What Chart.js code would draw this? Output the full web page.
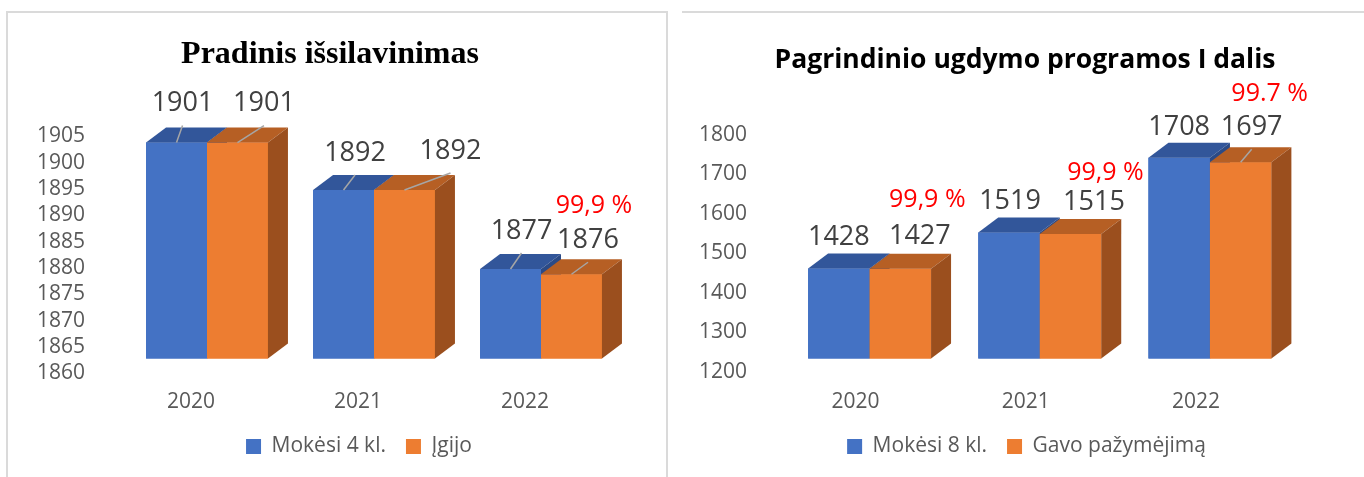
<!DOCTYPE html>
<html lang="lt">
<head>
<meta charset="utf-8">
<title>Mokinių skaičius</title>
<script src="https://cdn.jsdelivr.net/npm/chart.js@4.4.1/dist/chart.umd.min.js"></script>
<style>
    html, body { margin: 0; padding: 0; background: #fff; overflow: hidden; }
    body { position: relative; width: 1364px; height: 477px; }
    .panel { position: absolute; top: 11px; height: 480px; box-sizing: border-box; }
    #panel-primary { left: 6px; width: 662px; border: 2px solid #dadada; border-bottom: none; }
    #panel-basic { left: 682px; width: 682px; border-top: 2px solid #dadada; }
    .chart-box { position: absolute; top: 0; width: 682px; height: 467px; }
    #box-primary { left: 0; }
    #box-basic { left: 682px; }
</style>
</head>
<body>
<div class="panel" id="panel-primary"></div>
<div class="panel" id="panel-basic"></div>
<div class="chart-box" id="box-primary"><canvas id="primary"></canvas></div>
<div class="chart-box" id="box-basic"><canvas id="basic"></canvas></div>

<script>
// --- data ---------------------------------------------------------------
const years = ['2020', '2021', '2022'];

const primaryStudying = [1901, 1892, 1877];
const primaryGraduated = [1901, 1892, 1876];
const primaryShare = [null, null, '99,9 %'];
const primaryTicks = [1860, 1865, 1870, 1875, 1880, 1885, 1890, 1895, 1900, 1905];

const basicStudying = [1428, 1519, 1708];
const basicCertified = [1427, 1515, 1697];
const basicShare = ['99,9 %', '99,9 %', '99.7 %'];
const basicTicks = [1200, 1300, 1400, 1500, 1600, 1700, 1800];

// --- look ---------------------------------------------------------------
const BLUE = '#4472c4';
const ORANGE = '#ed7d31';
const faces = [
    { top: '#32569a', side: '#2b4a86' },
    { top: '#b65f24', side: '#9b4f1e' }
];
const GREY = '#595959';
const axisFont = { family: '"Open Sans", sans-serif', size: 21 };

// label offsets from the front top edge of each bar (manually dragged labels in the original)
const primaryLabelShift = [
    [[6, -39], [11.5, -37], [11, -38]],
    [[26.5, -39], [46, -39], [16.5, -34]]
];
const primaryLeaders = [[true, true, true], [true, true, true]];
const primaryShareShift = [null, null, [22.5, -68]];

const basicLabelShift = [
    [[0, -31.5], [1, -31], [0, -30.7]],
    [[19.5, -33], [23.5, -32], [11, -35]]
];
const basicLeaders = [[false, false, false], [false, false, true]];
const basicShareShift = [[27, -69], [35, -61.5], [29, -68]];

// draws top and right faces, bar by bar so neighbours overlap properly
function bar3d(depthX, depthY) {
    return {
        id: 'bar3d',
        afterDatasetsDraw(chart) {
            const ctx = chart.ctx;
            const area = chart.chartArea;
            const metas = chart.data.datasets.map((ds, i) => chart.getDatasetMeta(i));

            chart.data.labels.forEach((label, j) => {
                metas.forEach((meta, i) => {
                    const bar = meta.data[j];
                    const left = bar.x - bar.width / 2;
                    const right = bar.x + bar.width / 2;
                    const base = Math.min(bar.base, area.bottom);

                    ctx.save();
                    ctx.beginPath();
                    ctx.rect(area.left, area.top, area.right - area.left, area.bottom - area.top);
                    ctx.clip();
                    bar.draw(ctx);
                    ctx.restore();

                    ctx.save();
                    ctx.fillStyle = faces[i].top;
                    ctx.beginPath();
                    ctx.moveTo(left, bar.y);
                    ctx.lineTo(left + depthX, bar.y + depthY);
                    ctx.lineTo(right + depthX, bar.y + depthY);
                    ctx.lineTo(right, bar.y);
                    ctx.closePath();
                    ctx.fill();

                    ctx.fillStyle = faces[i].side;
                    ctx.beginPath();
                    ctx.moveTo(right, bar.y);
                    ctx.lineTo(right + depthX, bar.y + depthY);
                    ctx.lineTo(right + depthX, base + depthY);
                    ctx.lineTo(right, base);
                    ctx.closePath();
                    ctx.fill();
                    ctx.restore();
                });
            });
        }
    };
}

function barLabels(shift, leaders, share, shareShift) {
    return {
        id: 'barLabels',
        afterDatasetsDraw(chart) {
            const ctx = chart.ctx;
            ctx.save();
            ctx.textAlign = 'center';
            ctx.textBaseline = 'middle';

            chart.data.datasets.forEach((ds, i) => {
                chart.getDatasetMeta(i).data.forEach((bar, j) => {
                    const x = bar.x + shift[i][j][0];
                    const y = bar.y + shift[i][j][1];

                    if (leaders[i][j]) {
                        ctx.strokeStyle = '#a6a6a6';
                        ctx.lineWidth = 1.5;
                        ctx.beginPath();
                        ctx.moveTo(x, y + 22);
                        ctx.lineTo(bar.x, bar.y);
                        ctx.stroke();
                    }

                    ctx.font = '27px "Open Sans"';
                    ctx.fillStyle = '#404040';
                    ctx.fillText(String(ds.data[j]), x, y);
                });
            });

            const last = chart.getDatasetMeta(chart.data.datasets.length - 1);
            share.forEach((text, j) => {
                if (!text) {
                    return;
                }
                const bar = last.data[j];
                ctx.font = '25px "Open Sans"';
                ctx.fillStyle = '#ff0000';
                ctx.fillText(text, bar.x + shareShift[j][0], bar.y + shareShift[j][1]);
            });

            ctx.restore();
        }
    };
}

// moves title / legend sideways, the original centres them off the plot
const centerShift = (titleDx, legendDx) => ({
    id: 'centerShift',
    afterLayout(chart) {
        if (chart.titleBlock) {
            chart.titleBlock.left += titleDx;
            chart.titleBlock.right += titleDx;
        }
        if (chart.legend) {
            chart.legend.left += legendDx;
            chart.legend.right += legendDx;
        }
    }
});

function createChart(element, cfg) {
    return new Chart(element, {
        type: 'bar',
        data: {
            labels: years,
            datasets: [
                { label: cfg.names[0], data: cfg.studying, backgroundColor: BLUE, borderWidth: 0 },
                { label: cfg.names[1], data: cfg.finished, backgroundColor: ORANGE, borderWidth: 0 }
            ]
        },
        options: {
            responsive: true,
            maintainAspectRatio: false,
            animation: false,
            events: [],
            layout: { padding: 0 },
            datasets: {
                bar: { categoryPercentage: cfg.categoryPercentage, barPercentage: 1 }
            },
            plugins: {
                title: {
                    display: true,
                    text: cfg.title,
                    color: '#000',
                    font: cfg.titleFont,
                    padding: cfg.titlePadding
                },
                legend: {
                    position: 'bottom',
                    labels: {
                        boxWidth: 15,
                        boxHeight: 15,
                        padding: 20,
                        color: GREY,
                        font: axisFont
                    }
                },
                tooltip: { enabled: false }
            },
            scales: {
                x: {
                    afterFit: (scale) => {
                        scale.height = 57.5;
                    },
                    grid: { display: false, drawTicks: false },
                    border: { display: false },
                    ticks: {
                        color: GREY,
                        font: { ...axisFont, lineHeight: 1.35 },
                        padding: 29.1,
                        maxRotation: 0,
                        minRotation: 0,
                        labelOffset: cfg.xLabelOffset
                    }
                },
                y: {
                    position: 'left',
                    min: cfg.ticks[0],
                    max: cfg.ticks[cfg.ticks.length - 1],
                    afterBuildTicks: (scale) => {
                        scale.ticks = cfg.ticks.map((value) => ({ value: value }));
                    },
                    afterFit: (scale) => {
                        scale.width = cfg.axisWidth;
                    },
                    grid: { display: false, drawTicks: false },
                    border: { display: false },
                    ticks: {
                        autoSkip: false,
                        color: GREY,
                        font: { ...axisFont, lineHeight: 1 },
                        padding: cfg.yPadding,
                        labelOffset: cfg.yLabelOffset,
                        callback: (value) => String(value)
                    }
                },
                gutter: {
                    type: 'linear',
                    position: 'right',
                    afterFit: (scale) => {
                        scale.width = cfg.gutterWidth;
                    },
                    grid: { display: false, drawTicks: false },
                    border: { display: false },
                    ticks: { display: false }
                }
            }
        },
        plugins: [
            bar3d(20, -15),
            barLabels(cfg.labelShift, cfg.leaders, cfg.share, cfg.shareShift),
            centerShift(cfg.titleDx, cfg.legendDx)
        ]
    });
}

createChart(document.getElementById('primary'), {
    title: 'Pradinis išsilavinimas',
    titleFont: { family: '"Liberation Serif", "Times New Roman", serif', size: 32, weight: 'bold' },
    titlePadding: { top: 36, bottom: 47.1 },
    names: ['Mokėsi 4 kl.', 'Įgijo'],
    studying: primaryStudying,
    finished: primaryGraduated,
    share: primaryShare,
    ticks: primaryTicks,
    categoryPercentage: 0.73,
    axisWidth: 123.5,
    gutterWidth: 57.5,
    yPadding: 38.5,
    yLabelOffset: 15,
    xLabelOffset: -16,
    labelShift: primaryLabelShift,
    leaders: primaryLeaders,
    shareShift: primaryShareShift,
    titleDx: -11,
    legendDx: 18
});

createChart(document.getElementById('basic'), {
    title: 'Pagrindinio ugdymo programos I dalis',
    titleFont: { family: '"Open Sans", sans-serif', size: 26.5, weight: 'bold' },
    titlePadding: { top: 45, bottom: 44.7 },
    names: ['Mokėsi 8 kl.', 'Gavo pažymėjimą'],
    studying: basicStudying,
    finished: basicCertified,
    share: basicShare,
    ticks: basicTicks,
    categoryPercentage: 0.7225,
    axisWidth: 102.5,
    gutterWidth: 69,
    yPadding: 37.5,
    yLabelOffset: 13.5,
    xLabelOffset: -14,
    labelShift: basicLabelShift,
    leaders: basicLeaders,
    shareShift: basicShareShift,
    titleDx: 2,
    legendDx: 3.5
});
</script>
</body>
</html>
